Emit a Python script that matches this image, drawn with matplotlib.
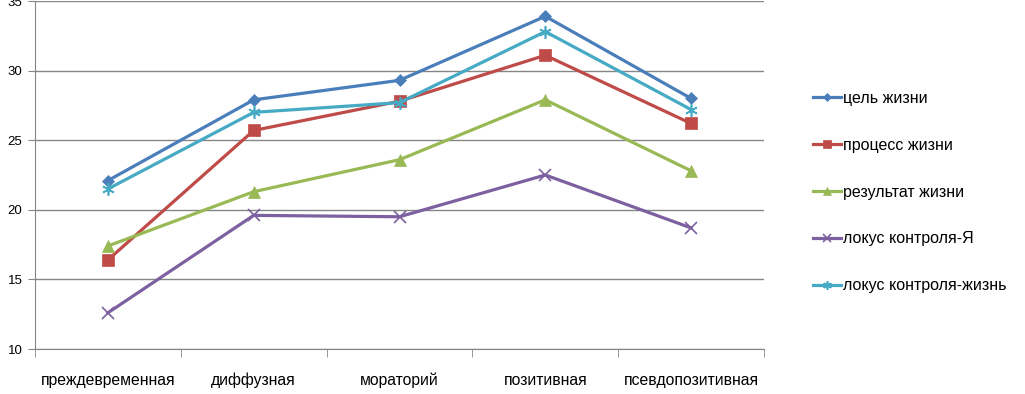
import matplotlib
matplotlib.use("Agg")
import matplotlib.pyplot as plt
import numpy as np

plt.rcParams['font.family'] = ['Liberation Sans', 'DejaVu Sans']

categories = ["преждевременная", "диффузная", "мораторий", "позитивная", "псевдопозитивная"]
series_names = ["цель жизни", "процесс жизни", "результат жизни",
                "локус контроля-Я", "локус контроля-жизнь"]
goal = [22.1, 27.9, 29.3, 33.9, 28.0]
process = [16.4, 25.7, 27.8, 31.1, 26.2]
result = [17.4, 21.3, 23.6, 27.9, 22.8]
locus_self = [12.6, 19.6, 19.5, 22.5, 18.7]
locus_life = [21.5, 27.0, 27.7, 32.8, 27.2]

colors = ["#4A7EBB", "#BE4B48", "#98B954", "#7D60A0", "#46AAC5"]
markers = ["D", "s", "^", "x", (6, 2, 0)]
msizes = [6, 8, 8, 8, 9]

fig = plt.figure(figsize=(10.25, 3.94), dpi=100)
ax = fig.add_axes([35 / 1025, 1 - 349 / 394, 729 / 1025, 348 / 394])

x = np.arange(len(categories))
for vals, name, c, m, ms in zip([goal, process, result, locus_self, locus_life],
                                series_names, colors, markers, msizes):
    ax.plot(x, vals, color=c, lw=2.3, marker=m, ms=ms, mew=1.2 if m in ("x", (6, 2, 0)) else 0.5,
            mec=c, mfc=c, label=name, zorder=3)

ax.set_xlim(-0.5, len(categories) - 0.5)
ax.set_ylim(10, 35)
ax.set_yticks([10, 15, 20, 25, 30, 35])
ax.yaxis.grid(True, color="#868686", lw=1)
ax.set_axisbelow(True)
ax.set_xticks(x)
ax.set_xticklabels(categories, fontsize=11.3)
ax.set_xticks(np.arange(-0.5, len(categories)), minor=True)
ax.tick_params(axis="x", which="major", length=0, pad=17)
ax.tick_params(axis="x", which="minor", length=6, color="#868686", direction="out")
ax.tick_params(axis="y", length=5, color="#868686", labelsize=9.5, pad=4)
for s in ["top", "right"]:
    ax.spines[s].set_visible(False)
for s in ["left", "bottom"]:
    ax.spines[s].set_color("#868686")

leg = ax.legend(loc="center left", bbox_to_anchor=(1.056, 0.451), frameon=False,
                fontsize=11.5, labelspacing=2.0, handlelength=1.75, handletextpad=0.12,
                borderpad=0, markerscale=0.7)

fig.savefig("out.png", dpi=100)
